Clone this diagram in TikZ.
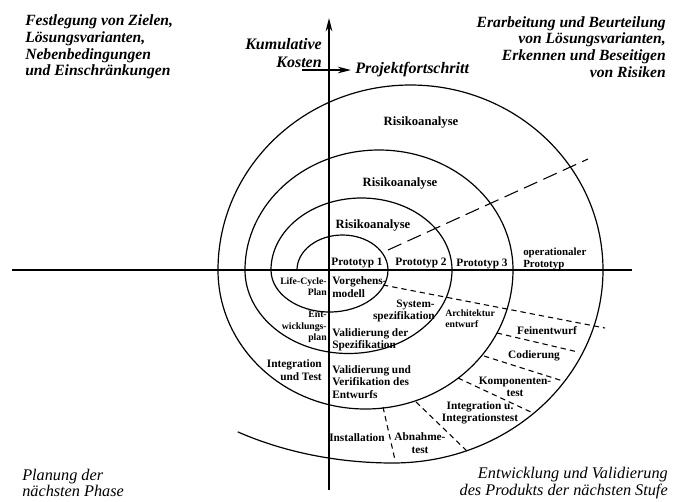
\documentclass[tikz,border=0pt]{standalone}
\usepackage{fontspec}
\setmainfont{Liberation Serif}
\usetikzlibrary{positioning}
\usetikzlibrary{arrows.meta}

\begin{document}
\begin{tikzpicture}[x=0.75pt, y=0.75pt,
    spiral/.style={line width=0.9pt},
    axis_line/.style={line width=1.1pt},
    axis_arrow/.style={axis_line, -{Stealth[length=10pt,width=5pt]}},
    phase_border/.style={line width=0.8pt, dash pattern=on 4pt off 3pt},
    proto_border/.style={line width=0.8pt, dash pattern=on 11pt off 5pt},
    quadrant/.style={font=\bfseries\itshape\fontsize{11.7}{12.6}\selectfont, inner sep=0pt},
    quadrant_light/.style={font=\itshape\fontsize{12.2}{12.6}\selectfont, inner sep=0pt},
    axis_label/.style={font=\bfseries\itshape\fontsize{12}{13}\selectfont, inner sep=0pt},
    risk/.style={font=\bfseries\fontsize{9.5}{10}\selectfont, inner sep=0pt},
    phase/.style={font=\bfseries\fontsize{8.5}{9.4}\selectfont, inner sep=0pt},
    phase_small/.style={font=\bfseries\fontsize{7.3}{8.4}\selectfont, inner sep=0pt},
]
\useasboundingbox (-329,-231) rectangle (345,270);

% axes
\coordinate (axis_bottom) at (0,-220);
\coordinate (axis_top) at (0,252);
\coordinate (axis_left) at (-317,0);
\coordinate (axis_right) at (303,0);
\draw[axis_arrow] (axis_bottom) -- (axis_top);
\draw[axis_line] (axis_left) -- (axis_right);

\coordinate (progress_start) at (-27,200);
\coordinate (progress_end) at (22,200);
\draw[axis_arrow] (progress_start) -- (progress_end);

\node[axis_label, align=right, anchor=east] (costs) at (-7,217) {Kumulative\\Kosten};
\node[axis_label, right=3pt of progress_end] (progress) {Projektfortschritt};

% the spiral, one half turn after the other
\draw[spiral] (-32,0) arc[start angle=180, end angle=0, x radius=45.5, y radius=35]
    arc[start angle=0, end angle=-180, x radius=58.5, y radius=42]
    arc[start angle=180, end angle=0, x radius=90.5, y radius=72]
    arc[start angle=0, end angle=-180, x radius=103.5, y radius=83.5]
    arc[start angle=180, end angle=0, x radius=134, y radius=120]
    arc[start angle=0, end angle=-180, x radius=147.5, y radius=139]
    arc[start angle=180, end angle=0, x radius=192.5, y radius=185]
    arc[start angle=0, end angle=-90, x radius=210, y radius=193]
    arc[start angle=-90, end angle=-123, x radius=285, y radius=193];

% quadrants
\node[quadrant, align=left, anchor=west] (goals) at (-304,223) {Festlegung von Zielen,\\Lösungsvarianten,\\Nebenbedingungen\\und Einschränkungen};
\node[quadrant, align=right, anchor=east] (risks) at (337,223) {Erarbeitung und Beurteilung\\von Lösungsvarianten,\\Erkennen und Beseitigen\\von Risiken};
\node[quadrant_light, align=left, anchor=west] (planning) at (-307,-213) {Planung der\\nächsten Phase};
\node[quadrant_light, align=right, anchor=east] (develop) at (339,-213) {Entwicklung und Validierung\\des Produkts der nächsten Stufe};

\node[risk] (risk3) at (92,148) {Risikoanalyse};
\node[risk] (risk2) at (71,87) {Risikoanalyse};
\node[risk] (risk1) at (44,45) {Risikoanalyse};

\node[phase] (proto1) at (28,7) {Prototyp 1};
\node[phase] (proto2) at (92,7) {Prototyp 2};
\node[phase] (proto3) at (153,6) {Prototyp 3};
\node[phase_small, font=\bfseries\fontsize{8.2}{9}\selectfont, align=left, anchor=west] (proto_op) at (194,11) {operationaler\\Prototyp};

\node[phase_small, align=right, anchor=east] (lc_plan) at (-2,-17) {Life-Cycle-\\Plan};
\node[phase, align=left, anchor=west] (vmodel) at (3,-17) {Vorgehens-\\modell};
\node[phase, align=right, anchor=east] (sys_spec) at (106,-41) {System-\\spezifikation};
\node[phase_small, align=left, anchor=west] (arch) at (116,-49) {Architektur\\entwurf};
\node[phase_small, align=right, anchor=east] (dev_plan) at (-2,-57) {Ent-\\wicklungs-\\plan};
\node[phase, align=left, anchor=west] (val_spec) at (3,-70) {Validierung der\\Spezifikation};
\node[phase, align=right, anchor=east] (int_test) at (-7,-100) {Integration\\und Test};
\node[phase, align=left, anchor=west] (val_design) at (3,-112) {Validierung und\\Verifikation des\\Entwurfs};
\node[phase] (install) at (28,-168) {Installation};
\node[phase, align=center] (accept) at (91,-173) {Abnahme-\\test};
\node[phase, align=center] (integ) at (151,-143) {Integration u.\\Integrationstest};
\node[phase, align=center] (comp) at (186,-117) {Komponenten-\\test};
\node[phase] (coding) at (205,-86) {Codierung};
\node[phase] (detail) at (218,-61) {Feinentwurf};

% borders between the phases
\coordinate (proto_in) at (59,20);
\coordinate (proto_out) at (259,111);
\coordinate (vmodel_in) at (54,-15);
\coordinate (vmodel_out) at (276,-58);
\coordinate (detail_in) at (168,-63);
\coordinate (detail_out) at (249,-82);
\coordinate (coding_in) at (155,-86);
\coordinate (coding_out) at (234,-111);
\coordinate (comp_in) at (129,-108);
\coordinate (comp_out) at (204,-143);
\coordinate (integ_in) at (87,-132);
\coordinate (integ_out) at (138,-181);
\coordinate (install_in) at (54,-137);
\coordinate (install_out) at (66,-190);

\draw[proto_border] (proto_in) -- (proto_out);
\draw[phase_border] (vmodel_in) -- (vmodel_out);
\draw[phase_border] (detail_in) -- (detail_out);
\draw[phase_border] (coding_in) -- (coding_out);
\draw[phase_border] (comp_in) -- (comp_out);
\draw[phase_border] (integ_in) -- (integ_out);
\draw[phase_border] (install_in) -- (install_out);

\end{tikzpicture}
\end{document}
